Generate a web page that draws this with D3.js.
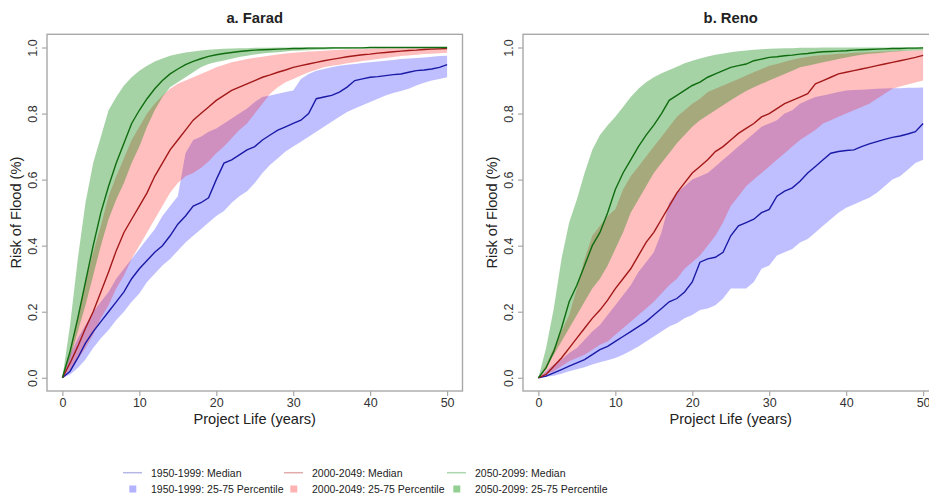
<!DOCTYPE html>
<html lang="en">
<head>
  <meta charset="UTF-8"/>
  <title>Risk of Flood vs Project Life</title>
  <script src="https://d3js.org/d3.v7.min.js"></script>
  <style>
    body { margin: 0; background: #fff; }
    text { font-family: "Liberation Sans", Arial, sans-serif; fill: #222; }
  </style>
</head>
<body>
<script>

// ---- data (one value per project year 0..50) ----
var years = d3.range(0, 51);
var xTicks = [0, 10, 20, 30, 40, 50];
var yTicks = [0, 0.2, 0.4, 0.6, 0.8, 1.0];
var periods = ["1950-1999", "2000-2049", "2050-2099"];
var panelTitles = ["a. Farad", "b. Reno"];

// Farad
var farad1950Med = [0,0.02,0.06,0.105,0.14,0.17,0.20,0.23,0.26,0.30,0.33,0.355,0.38,0.40,0.43,0.465,0.49,0.52,0.53,0.545,0.60,0.65,0.66,0.675,0.69,0.70,0.72,0.735,0.75,0.76,0.77,0.78,0.80,0.845,0.85,0.855,0.865,0.88,0.90,0.905,0.91,0.912,0.915,0.918,0.92,0.925,0.93,0.932,0.935,0.94,0.948];
var farad1950P75 = [0,0.07,0.12,0.16,0.20,0.23,0.26,0.30,0.33,0.36,0.39,0.42,0.45,0.49,0.52,0.55,0.68,0.72,0.73,0.745,0.755,0.77,0.785,0.80,0.815,0.835,0.85,0.855,0.86,0.865,0.87,0.905,0.92,0.93,0.935,0.94,0.945,0.948,0.95,0.953,0.955,0.958,0.96,0.962,0.965,0.967,0.968,0.97,0.972,0.974,0.975];
var farad1950P25 = [0,0.01,0.03,0.055,0.09,0.12,0.145,0.175,0.20,0.23,0.255,0.29,0.315,0.34,0.36,0.385,0.41,0.43,0.45,0.47,0.49,0.505,0.53,0.55,0.565,0.59,0.62,0.645,0.665,0.685,0.70,0.715,0.73,0.745,0.76,0.775,0.79,0.805,0.815,0.825,0.835,0.845,0.855,0.862,0.868,0.875,0.885,0.893,0.90,0.905,0.91];
var farad2000Med = [0,0.045,0.095,0.15,0.20,0.26,0.32,0.385,0.44,0.48,0.52,0.56,0.61,0.65,0.69,0.72,0.75,0.78,0.80,0.82,0.84,0.855,0.87,0.88,0.89,0.90,0.91,0.917,0.925,0.932,0.94,0.945,0.95,0.955,0.96,0.964,0.968,0.972,0.975,0.978,0.98,0.983,0.985,0.987,0.989,0.991,0.992,0.994,0.995,0.996,0.997];
var farad2000P75 = [0,0.08,0.19,0.29,0.38,0.46,0.55,0.61,0.665,0.72,0.76,0.80,0.83,0.855,0.875,0.89,0.90,0.91,0.92,0.93,0.94,0.948,0.955,0.96,0.965,0.969,0.972,0.976,0.979,0.982,0.984,0.986,0.988,0.989,0.99,0.992,0.993,0.994,0.995,0.995,0.996,0.997,0.997,0.998,0.998,0.998,0.999,0.999,0.999,0.999,0.999];
var farad2000P25 = [0,0.025,0.055,0.09,0.13,0.18,0.22,0.27,0.31,0.36,0.40,0.44,0.48,0.52,0.56,0.59,0.61,0.62,0.635,0.655,0.68,0.70,0.725,0.75,0.77,0.80,0.83,0.86,0.88,0.895,0.905,0.915,0.925,0.933,0.94,0.945,0.948,0.952,0.955,0.959,0.962,0.965,0.968,0.971,0.974,0.976,0.978,0.98,0.981,0.983,0.984];
var farad2050Med = [0,0.08,0.18,0.29,0.40,0.50,0.58,0.65,0.71,0.77,0.81,0.845,0.875,0.90,0.92,0.935,0.948,0.958,0.966,0.973,0.978,0.982,0.985,0.988,0.99,0.992,0.993,0.994,0.995,0.996,0.997,0.997,0.998,0.998,0.998,0.999,0.999,0.999,0.999,0.999,1,1,1,1,1,1,1,1,1,1,1];
var farad2050P75 = [0,0.16,0.36,0.53,0.65,0.73,0.81,0.85,0.885,0.91,0.93,0.945,0.958,0.967,0.975,0.98,0.985,0.988,0.991,0.993,0.995,0.996,0.997,0.998,0.998,0.999,0.999,0.999,1,1,1,1,1,1,1,1,1,1,1,1,1,1,1,1,1,1,1,1,1,1,1];
var farad2050P25 = [0,0.06,0.14,0.22,0.31,0.40,0.48,0.54,0.59,0.65,0.70,0.76,0.81,0.85,0.88,0.895,0.91,0.925,0.94,0.95,0.956,0.961,0.966,0.971,0.975,0.979,0.982,0.984,0.986,0.988,0.99,0.991,0.992,0.993,0.994,0.995,0.996,0.996,0.997,0.997,0.998,0.998,0.998,0.999,0.999,0.999,0.999,1,1,1,1];

// Reno
var reno1950Med = [0,0.005,0.015,0.025,0.035,0.045,0.055,0.07,0.085,0.095,0.11,0.125,0.14,0.155,0.17,0.19,0.21,0.23,0.24,0.26,0.29,0.35,0.36,0.365,0.38,0.43,0.46,0.47,0.48,0.50,0.51,0.55,0.565,0.575,0.595,0.62,0.64,0.66,0.68,0.685,0.688,0.69,0.70,0.708,0.715,0.722,0.728,0.732,0.738,0.745,0.77];
var reno1950P75 = [0,0.02,0.04,0.055,0.075,0.09,0.115,0.14,0.16,0.19,0.22,0.25,0.28,0.32,0.35,0.38,0.44,0.53,0.56,0.58,0.60,0.61,0.62,0.64,0.66,0.68,0.70,0.72,0.74,0.76,0.77,0.78,0.80,0.81,0.83,0.84,0.85,0.855,0.86,0.865,0.87,0.871,0.872,0.874,0.875,0.876,0.877,0.877,0.878,0.878,0.879];
var reno1950P25 = [0,0.003,0.006,0.012,0.02,0.026,0.032,0.04,0.047,0.053,0.06,0.07,0.082,0.095,0.11,0.125,0.14,0.155,0.165,0.18,0.19,0.205,0.21,0.22,0.24,0.27,0.27,0.27,0.29,0.33,0.34,0.37,0.38,0.39,0.41,0.42,0.44,0.46,0.48,0.50,0.515,0.525,0.535,0.545,0.56,0.58,0.60,0.61,0.63,0.65,0.66];
var reno2000Med = [0,0.01,0.035,0.06,0.09,0.12,0.15,0.18,0.205,0.235,0.27,0.30,0.33,0.37,0.41,0.44,0.48,0.52,0.56,0.59,0.62,0.64,0.66,0.685,0.70,0.72,0.74,0.755,0.77,0.79,0.80,0.815,0.83,0.84,0.85,0.86,0.89,0.90,0.91,0.92,0.925,0.93,0.935,0.94,0.945,0.95,0.955,0.96,0.965,0.97,0.976];
var reno2000P75 = [0,0.04,0.09,0.14,0.19,0.27,0.36,0.43,0.46,0.49,0.51,0.57,0.61,0.64,0.67,0.70,0.73,0.76,0.79,0.81,0.83,0.845,0.865,0.875,0.885,0.895,0.905,0.915,0.925,0.935,0.945,0.95,0.957,0.963,0.968,0.972,0.975,0.977,0.979,0.981,0.982,0.984,0.985,0.986,0.987,0.988,0.989,0.99,0.99,0.991,0.992];
var reno2000P25 = [0,0.01,0.02,0.035,0.05,0.06,0.07,0.085,0.10,0.11,0.13,0.15,0.17,0.19,0.21,0.23,0.255,0.28,0.30,0.33,0.35,0.37,0.40,0.43,0.47,0.52,0.55,0.58,0.60,0.62,0.64,0.66,0.68,0.70,0.72,0.735,0.75,0.77,0.78,0.79,0.80,0.81,0.82,0.83,0.845,0.86,0.875,0.882,0.888,0.894,0.90];
var reno2050Med = [0,0.03,0.08,0.15,0.23,0.28,0.34,0.40,0.44,0.50,0.57,0.62,0.66,0.70,0.735,0.765,0.80,0.84,0.855,0.87,0.885,0.895,0.91,0.92,0.93,0.94,0.945,0.95,0.96,0.965,0.97,0.972,0.975,0.977,0.98,0.982,0.985,0.987,0.988,0.989,0.99,0.992,0.993,0.994,0.995,0.996,0.997,0.997,0.998,0.998,0.999];
var reno2050P75 = [0,0.09,0.21,0.36,0.47,0.54,0.62,0.69,0.735,0.765,0.79,0.82,0.85,0.875,0.895,0.91,0.922,0.932,0.942,0.952,0.96,0.967,0.973,0.978,0.982,0.986,0.989,0.991,0.993,0.995,0.996,0.997,0.998,0.998,0.999,0.999,0.999,1,1,1,1,1,1,1,1,1,1,1,1,1,1];
var reno2050P25 = [0,0.03,0.07,0.11,0.15,0.19,0.23,0.27,0.30,0.34,0.39,0.44,0.50,0.54,0.58,0.62,0.65,0.68,0.71,0.735,0.76,0.78,0.795,0.81,0.825,0.84,0.855,0.868,0.88,0.89,0.90,0.91,0.92,0.93,0.94,0.945,0.95,0.955,0.96,0.965,0.97,0.974,0.978,0.981,0.983,0.985,0.987,0.989,0.99,0.991,0.992];

// ---- styling ----
var bandColors = ["rgba(0,0,255,0.25)", "rgba(255,0,0,0.25)", "rgba(0,128,0,0.35)"];
var lineColors = ["#1a1aa6", "#a31818", "#0f6c0f"];
var legendLineColors = ["#b6b6e6", "#e2aaaa", "#acd6ac"];
var legendBoxColors = ["#b2b2ff", "#ffb2b2", "#94cf94"];

var w = 929;
var h = 502;

var svg = d3.select("body")
  .append("svg")
  .attr("width", w)
  .attr("height", h);

var panels = [
  { title: panelTitles[0], left: 47, med: [farad1950Med, farad2000Med, farad2050Med],
    lo: [farad1950P25, farad2000P25, farad2050P25], hi: [farad1950P75, farad2000P75, farad2050P75] },
  { title: panelTitles[1], left: 523, med: [reno1950Med, reno2000Med, reno2050Med],
    lo: [reno1950P25, reno2000P25, reno2050P25], hi: [reno1950P75, reno2000P75, reno2050P75] }
];

var plotW = 415.5;
var plotTop = 34.3, plotBottom = 391;

panels.forEach(function(p) {
  var x = d3.scaleLinear().domain([-2, 52]).range([p.left, p.left + plotW]);
  var y = d3.scaleLinear().domain([-0.04, 1.04]).range([plotBottom, plotTop]);
  var g = svg.append("g");

  // bands
  var area = d3.area()
    .x(function(d) { return x(d.year); })
    .y0(function(d) { return y(d.lo); })
    .y1(function(d) { return y(d.hi); });

  for (var k = 0; k < 3; k++) {
    var rows = years.map(function(yr, i) { return { year: yr, lo: p.lo[k][i], hi: p.hi[k][i] }; });
    g.append("path")
      .datum(rows)
      .attr("d", area)
      .attr("fill", bandColors[k])
      .attr("stroke", "none");
  }

  // median lines
  var line = d3.line()
    .x(function(d) { return x(d.year); })
    .y(function(d) { return y(d.v); });

  for (var k2 = 0; k2 < 3; k2++) {
    var pts = years.map(function(yr, i) { return { year: yr, v: p.med[k2][i] }; });
    g.append("path")
      .datum(pts)
      .attr("d", line)
      .attr("fill", "none")
      .attr("stroke", lineColors[k2])
      .attr("stroke-width", 1.4);
  }

  // frame
  g.append("rect")
    .attr("x", x(-2))
    .attr("y", y(1.04))
    .attr("width", x(52) - x(-2))
    .attr("height", y(-0.04) - y(1.04))
    .attr("fill", "none")
    .attr("stroke", "#a8a8a8")
    .attr("stroke-width", 1.4);

  // x axis
  var xa = g.append("g")
    .attr("transform", "translate(0," + plotBottom + ")")
    .call(d3.axisBottom(x).tickValues(xTicks).tickSize(5).tickPadding(2).tickFormat(d3.format("d")));
  xa.select(".domain").remove();
  xa.selectAll("line").attr("stroke", "#a8a8a8").attr("stroke-width", 1.2);
  xa.selectAll("text").style("font-size", "12.5px").style("fill", "#333").attr("font-family", null);

  // y axis, labels rotated like base R
  var ya = g.append("g")
    .attr("transform", "translate(" + p.left + ",0)")
    .call(d3.axisLeft(y).tickValues(yTicks).tickSize(5).tickFormat(d3.format(".1f")));
  ya.select(".domain").remove();
  ya.selectAll("line").attr("stroke", "#a8a8a8").attr("stroke-width", 1.2);
  ya.selectAll("text")
    .attr("x", null)
    .attr("dy", null)
    .attr("text-anchor", "middle")
    .attr("transform", "translate(-9.7,0) rotate(-90)")
    .attr("font-family", null)
    .style("font-size", "12.5px")
    .style("fill", "#333");

  // titles and labels
  g.append("text")
    .attr("x", (x(-2) + x(52)) / 2)
    .attr("y", 23)
    .attr("text-anchor", "middle")
    .style("font-weight", "bold")
    .style("font-size", "14.8px")
    .text(p.title);

  g.append("text")
    .attr("x", (x(-2) + x(52)) / 2)
    .attr("y", 424)
    .attr("text-anchor", "middle")
    .style("font-size", "14.6px")
    .text("Project Life (years)");

  g.append("text")
    .attr("transform", "translate(" + (p.left - 26) + "," + ((plotTop + plotBottom) / 2) + ") rotate(-90)")
    .attr("text-anchor", "middle")
    .style("font-size", "14.6px")
    .text("Risk of Flood (%)");
});

// legend
var legendX = [123, 284, 447];
var legendRowY = [472.7, 489];
var legend = svg.append("g");

periods.forEach(function(per, i) {
  var lx = legendX[i];
  legend.append("line")
    .attr("x1", lx).attr("x2", lx + 19)
    .attr("y1", legendRowY[0]).attr("y2", legendRowY[0])
    .attr("stroke", legendLineColors[i])
    .attr("stroke-width", 1.5);
  legend.append("text")
    .attr("x", lx + 28)
    .attr("y", legendRowY[0] + 3.8)
    .style("font-size", "10.5px")
    .text(per + ": Median");

  legend.append("rect")
    .attr("x", lx + 6.3).attr("y", legendRowY[1] - 3.5)
    .attr("width", 7).attr("height", 7)
    .attr("fill", legendBoxColors[i]);
  legend.append("text")
    .attr("x", lx + 28)
    .attr("y", legendRowY[1] + 3.8)
    .style("font-size", "10.5px")
    .text(per + ": 25-75 Percentile");
});

</script>
</body>
</html>
